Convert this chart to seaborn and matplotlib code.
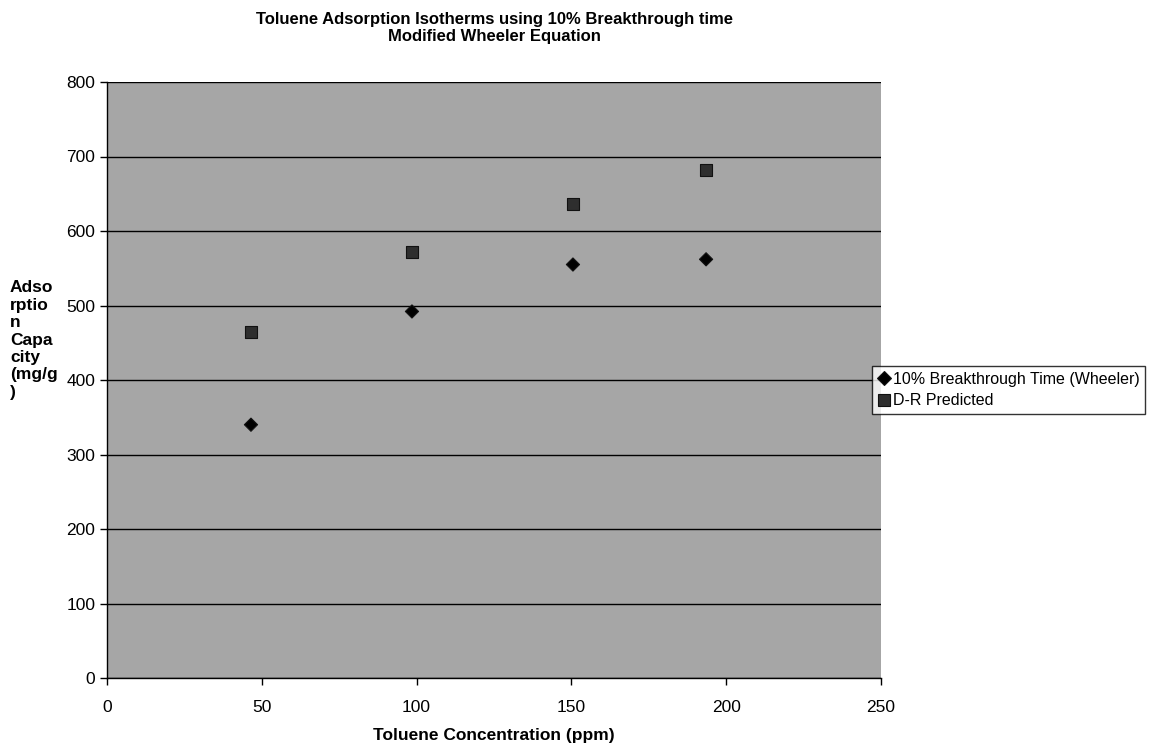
import matplotlib
matplotlib.use("Agg")
import matplotlib.pyplot as plt
import seaborn as sns
import pandas as pd

conc = [46.5, 98.5, 150.5, 193.5]
wheeler = [340, 492, 555, 562]
dr_pred = [464, 572, 636, 682]
series_names = ["10% Breakthrough Time (Wheeler)", "D-R Predicted"]

df = pd.DataFrame({
    "conc": conc * 2,
    "cap": wheeler + dr_pred,
    "series": [series_names[0]] * 4 + [series_names[1]] * 4,
})

sns.set_theme(style="white")
plt.rcParams['font.family'] = ['Liberation Sans', 'DejaVu Sans']
plt.rcParams['text.color'] = 'black'
plt.rcParams['axes.labelcolor'] = 'black'

fig = plt.figure(figsize=(11.54, 7.46), dpi=100)
ax = fig.add_axes([107/1154, 1 - 678/746, (881-107)/1154, (678-82)/746])
ax.set_facecolor('#a6a6a6')

sns.scatterplot(data=df, x="conc", y="cap", hue="series", style="series", size="series",
                markers={series_names[0]: "D", series_names[1]: "s"},
                palette={series_names[0]: "#000000", series_names[1]: "#2e2e2e"},
                sizes={series_names[0]: 45, series_names[1]: 75},
                edgecolor="#111111", linewidth=0.8, ax=ax, zorder=3, legend=True)

ax.set_xlim(0, 250)
ax.set_ylim(0, 800)
ax.set_xticks(range(0, 251, 50))
ax.set_yticks(range(0, 801, 100))
ax.grid(axis='y', color='black', linewidth=1.0)
ax.set_axisbelow(True)
for side in ['top', 'right']:
    ax.spines[side].set_visible(False)
for side in ['left', 'bottom']:
    ax.spines[side].set_color('black')
    ax.spines[side].set_linewidth(1.0)
ax.tick_params(axis='both', labelsize=12.5, colors='black', direction='out',
               length=5, width=1, left=True, bottom=True)
ax.tick_params(axis='x', pad=11)
ax.set_xlabel("Toluene Concentration (ppm)", fontsize=12.5, fontweight='bold', labelpad=9)
ax.set_ylabel("")

fig.text(10/1154, 1 - 340/746, "Adso\nrptio\nn\nCapa\ncity\n(mg/g\n)", fontsize=12.5,
         fontweight='bold', ha='left', va='center', linespacing=1.2)

fig.text(494/1154, 1 - 28/746, "Toluene Adsorption Isotherms using 10% Breakthrough time\nModified Wheeler Equation",
         fontsize=12, fontweight='bold', ha='center', va='center', linespacing=1.1)

leg = ax.legend(loc='center left', bbox_to_anchor=(872/1154, 1 - 390/746),
                bbox_transform=fig.transFigure, frameon=True, fontsize=11.5,
                fancybox=False, shadow=False, borderpad=0.35, handletextpad=0.15,
                handlelength=0.8, labelspacing=0.4, borderaxespad=0)
leg.get_frame().set_edgecolor('black')
leg.get_frame().set_linewidth(1.0)

fig.savefig("out.png", dpi=100, facecolor='white')
